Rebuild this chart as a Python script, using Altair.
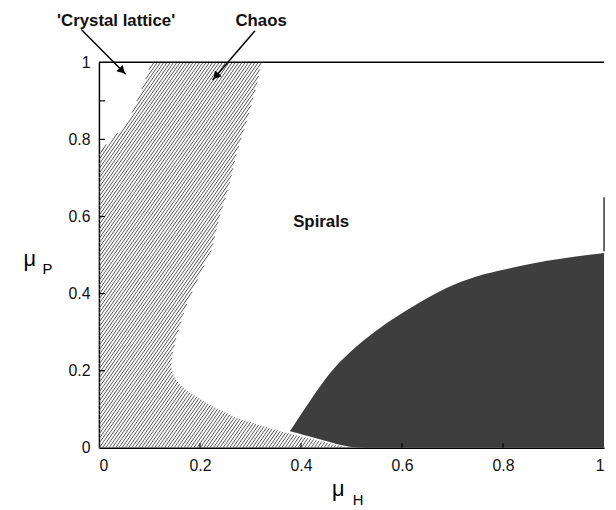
import math
import altair as alt
import pandas as pd

# ---------------- data ----------------
x_ticks = [0, 0.2, 0.4, 0.6, 0.8, 1]
y_ticks = [0, 0.2, 0.4, 0.6, 0.8, 1]

# right boundary of the hatched "Chaos" region (x as a function of mu_P)
chaos_y = [0.0, 0.018, 0.043, 0.077, 0.110, 0.146, 0.165, 0.180, 0.198, 0.213, 0.240,
           0.282, 0.367, 0.454, 0.510, 0.596, 0.683, 0.767, 0.850, 0.940, 1.0]
chaos_right = [0.494, 0.436, 0.358, 0.273, 0.221, 0.176, 0.160, 0.150, 0.145, 0.143, 0.145,
               0.152, 0.172, 0.201, 0.222, 0.238, 0.258, 0.273, 0.293, 0.312, 0.322]

# boundary of the 'Crystal lattice' corner
crystal_y = [0.77, 0.80, 0.85, 0.94, 1.0]
crystal_x = [0.0, 0.026, 0.059, 0.088, 0.104]

# dark region
dark_x = [0.378, 0.417, 0.457, 0.496, 0.535, 0.580, 0.633, 0.691, 0.744, 0.783, 0.885, 1.0]
dark_top = [0.043, 0.120, 0.197, 0.248, 0.291, 0.333, 0.376, 0.419, 0.444, 0.457, 0.487, 0.505]
dark_bottom = [0.043, 0.029, 0.015, 0.0, 0.0, 0.0, 0.0, 0.0, 0.0, 0.0, 0.0, 0.0]

# labels
region_labels = ["'Crystal lattice'", "Chaos", "Spirals"]
region_lx = [0.034, 0.321, 0.44]
region_ly = [1.108, 1.108, 0.585]

# arrows (start -> tip)
arrow_x1 = [-0.035, 0.309]
arrow_y1 = [1.085, 1.082]
arrow_x2 = [0.053, 0.225]
arrow_y2 = [0.969, 0.954]

# ---------------- layout ----------------
W, H = 511, 390
xs = alt.Scale(domain=[0, 1], nice=False, zero=False)
ys = alt.Scale(domain=[0, 1], nice=False, zero=False)
FONT = "Liberation Sans"

xaxis = alt.Axis(values=x_ticks, format="~g", title=None, grid=False, ticks=False,
                 domainColor="black", domainWidth=1.5, labelFont=FONT, labelFontSize=16,
                 labelColor="#111", labelPadding=10)
yaxis = alt.Axis(values=y_ticks, format="~g", title=None, grid=False, ticks=False,
                 domainColor="black", domainWidth=1.5, labelFont=FONT, labelFontSize=16,
                 labelColor="#111", labelPadding=9)


def X(f):
    return alt.X(f, scale=xs, axis=xaxis)


def Y(f):
    return alt.Y(f, scale=ys, axis=yaxis)


# ---------------- hatch lines for the chaos polygon ----------------
poly = [(0.0, 0.0)]
for yy, xx in zip(chaos_y, chaos_right):
    poly.append((xx, yy))
for yy, xx in reversed(list(zip(crystal_y, crystal_x))):
    poly.append((xx, yy))
pp = [(x * W, y * H) for x, y in poly]

ang = math.radians(55)
dvec = (math.cos(ang), math.sin(ang))
nvec = (-math.sin(ang), math.cos(ang))
proj = [nvec[0] * p[0] + nvec[1] * p[1] for p in pp]
spacing = 2.7
segs = []
c = min(proj) + spacing / 2
while c < max(proj):
    hits = []
    for i in range(len(pp)):
        p1, p2 = pp[i], pp[(i + 1) % len(pp)]
        v1 = nvec[0] * p1[0] + nvec[1] * p1[1] - c
        v2 = nvec[0] * p2[0] + nvec[1] * p2[1] - c
        if (v1 < 0) != (v2 < 0):
            t = v1 / (v1 - v2)
            q = (p1[0] + t * (p2[0] - p1[0]), p1[1] + t * (p2[1] - p1[1]))
            hits.append((dvec[0] * q[0] + dvec[1] * q[1], q))
    hits.sort()
    for k in range(0, len(hits) - 1, 2):
        a, b = hits[k][1], hits[k + 1][1]
        segs.append({"x": a[0] / W, "y": a[1] / H, "x2": b[0] / W, "y2": b[1] / H})
    c += spacing
hatch_df = pd.DataFrame(segs)

# ---------------- layers ----------------
dark_df = pd.DataFrame({"x": dark_x, "top": dark_top, "bottom": dark_bottom})
dark = alt.Chart(dark_df).mark_area(color="#3e3e3e", opacity=1, interpolate="basis").encode(
    x=X("x:Q"), y=Y("top:Q"), y2="bottom:Q",
)

hatch = alt.Chart(hatch_df).mark_rule(color="#555555", strokeWidth=1.0).encode(
    x=X("x:Q"), y=Y("y:Q"), x2="x2:Q", y2="y2:Q",
)

frame_df = pd.DataFrame({"x": [0.0], "x2": [1.0], "y": [1.0]})
top_line = alt.Chart(frame_df).mark_rule(color="black", strokeWidth=1.5).encode(
    x=X("x:Q"), x2="x2:Q", y=Y("y:Q"),
)
right_df = pd.DataFrame({"x": [1.0], "y": [0.51], "y2": [0.65]})
right_piece = alt.Chart(right_df).mark_rule(color="black", strokeWidth=1.2).encode(
    x=X("x:Q"), y=Y("y:Q"), y2="y2:Q",
)
ytick_df = pd.DataFrame({"y": y_ticks[1:-1] + [0.9], "x": [0.0] * 5, "x2": [0.012] * 5})
yticks = alt.Chart(ytick_df).mark_rule(color="black", strokeWidth=1.2).encode(
    x=X("x:Q"), x2="x2:Q", y=Y("y:Q"),
)
xtick_df = pd.DataFrame({"x": x_ticks[1:-1], "y": [0.0] * 4, "y2": [0.012] * 4})
xticks = alt.Chart(xtick_df).mark_rule(color="black", strokeWidth=1.2).encode(
    x=X("x:Q"), y=Y("y:Q"), y2="y2:Q",
)

arrow_df = pd.DataFrame({"x": arrow_x1, "y": arrow_y1, "x2": arrow_x2, "y2": arrow_y2})
arrow_lines = alt.Chart(arrow_df).mark_rule(color="black", strokeWidth=1.5).encode(
    x=X("x:Q"), x2="x2:Q", y=Y("y:Q"), y2="y2:Q",
)
heads = []
for x1, y1, x2, y2 in zip(arrow_x1, arrow_y1, arrow_x2, arrow_y2):
    dxp = (x2 - x1) * W
    dyp = -(y2 - y1) * H
    L = math.hypot(dxp, dyp)
    back = 5.0 / L
    hx = x2 - (x2 - x1) * back
    hy = y2 - (y2 - y1) * back
    a = math.degrees(math.atan2(dxp, -dyp)) % 360
    heads.append({"x": hx, "y": hy, "ang": a})
head_df = pd.DataFrame(heads)
arrow_heads = alt.Chart(head_df).mark_point(
    shape="triangle-up", filled=True, color="black", size=80, opacity=1
).encode(
    x=X("x:Q"), y=Y("y:Q"), angle=alt.Angle("ang:Q", scale=None),
)

lab_df = pd.DataFrame({"x": region_lx, "y": region_ly, "t": region_labels})
labels = alt.Chart(lab_df).mark_text(
    font=FONT, fontSize=17, fontWeight="bold", color="#111", align="center", baseline="middle"
).encode(x=X("x:Q"), y=Y("y:Q"), text="t:N")

mu_df = pd.DataFrame({"x": [-0.137, 0.474], "y": [0.49, -0.108], "t": ["μ", "μ"]})
mu_text = alt.Chart(mu_df).mark_text(
    font=FONT, fontSize=22, color="black", align="center", baseline="middle"
).encode(x=X("x:Q"), y=Y("y:Q"), text="t:N")
sub_df = pd.DataFrame({"x": [-0.102, 0.513], "y": [0.464, -0.136], "t": ["P", "H"]})
sub_text = alt.Chart(sub_df).mark_text(
    font=FONT, fontSize=15, color="black", align="center", baseline="middle"
).encode(x=X("x:Q"), y=Y("y:Q"), text="t:N")

chart = alt.layer(
    dark, hatch, top_line, right_piece, yticks, xticks,
    arrow_lines, arrow_heads, labels, mu_text, sub_text,
).properties(
    width=W, height=H,
    padding={"left": 92, "top": 52, "right": 4, "bottom": 60},
    autosize=alt.AutoSizeParams(type="none"),
    background="white",
).configure_view(stroke=None)

chart.save("out.html", embed_options={"renderer": "svg", "actions": False})
